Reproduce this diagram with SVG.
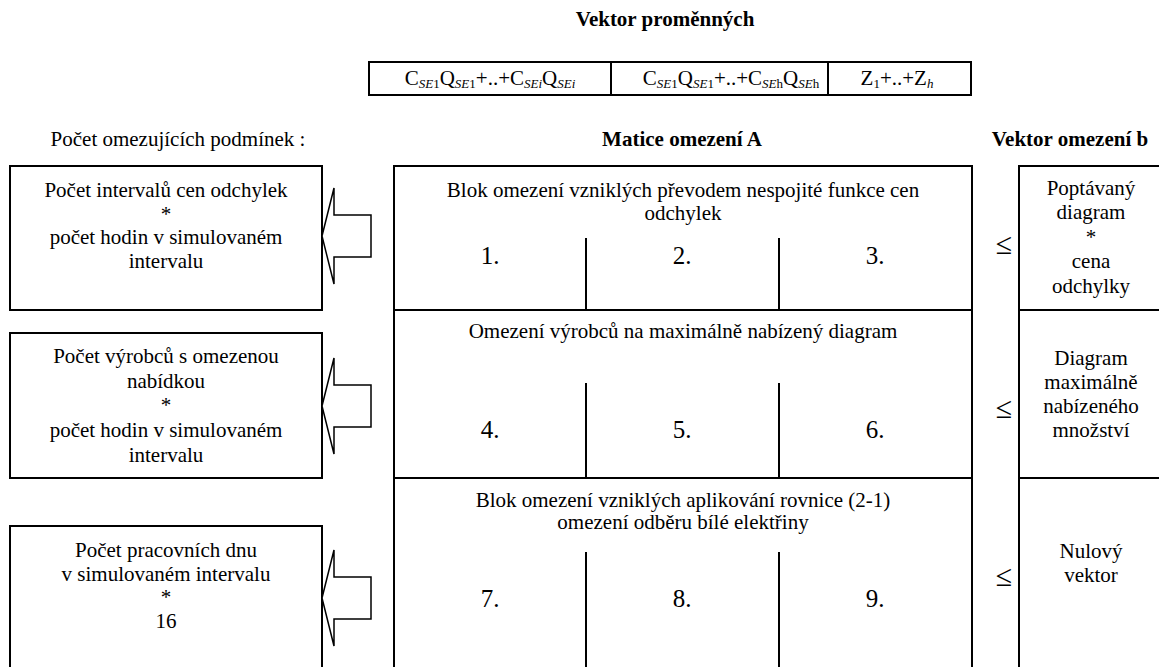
<svg xmlns="http://www.w3.org/2000/svg" width="1159" height="667" viewBox="0 0 1159 667">
  <defs>
    <style>
      text { font-family: "Liberation Serif", "Times New Roman", serif; font-size: 21px; fill: #000; text-anchor: middle; }
      .b { font-weight: bold; }
      .num { font-size: 25px; }
      .le { font-size: 30px; }
      .sub { font-size: 13px; }
      .it { font-style: italic; }
      .box { fill: #fff; stroke: #000; stroke-width: 2; }
      .ln { stroke: #000; stroke-width: 2; fill: none; }
      .arrow { fill: #fff; stroke: #000; stroke-width: 1.5; stroke-linejoin: miter; }
    </style>
    <!-- hollow block arrow pointing left, tip at origin -->
    <polygon id="blockArrow" class="arrow" points="0,0 12,-48 12,-21 49,-21 49,21 12,21 12,48"/>
  </defs>
  <rect width="1159" height="667" fill="#fff"/>

  <!-- vector of variables -->
  <g id="variables">
    <text class="b" x="665" y="26">Vektor proměnných</text>
    <rect class="box" x="369" y="62" width="602" height="33"/>
    <line class="ln" x1="611" y1="62" x2="611" y2="95"/>
    <line class="ln" x1="828" y1="62" x2="828" y2="95"/>
    <text x="490" y="85">C<tspan class="sub it" dy="3">SE</tspan><tspan class="sub">1</tspan><tspan dy="-3">Q</tspan><tspan class="sub it" dy="3">SE</tspan><tspan class="sub">1</tspan><tspan dy="-3">+..+C</tspan><tspan class="sub it" dy="3">SEi</tspan><tspan dy="-3">Q</tspan><tspan class="sub it" dy="3">SEi</tspan></text>
    <text x="731" y="85">C<tspan class="sub it" dy="3">SE</tspan><tspan class="sub">1</tspan><tspan dy="-3">Q</tspan><tspan class="sub it" dy="3">SE</tspan><tspan class="sub">1</tspan><tspan dy="-3">+..+C</tspan><tspan class="sub it" dy="3">SE</tspan><tspan class="sub">h</tspan><tspan dy="-3">Q</tspan><tspan class="sub it" dy="3">SE</tspan><tspan class="sub">h</tspan></text>
    <text x="897" y="85">Z<tspan class="sub" dy="3">1</tspan><tspan dy="-3">+..+Z</tspan><tspan class="sub it" dy="3">h</tspan></text>
  </g>

  <!-- column headings -->
  <g id="headings">
    <text x="178" y="146">Počet omezujících podmínek :</text>
    <text class="b" x="682" y="146">Matice omezení A</text>
    <text class="b" x="1070" y="146">Vektor omezení b</text>
  </g>

  <!-- constraint counts -->
  <g id="count1">
    <rect class="box" x="10" y="166" width="312" height="144"/>
    <text x="166" y="197">Počet intervalů cen odchylek</text>
    <text x="166" y="221">*</text>
    <text x="166" y="244">počet hodin v simulovaném</text>
    <text x="166" y="268">intervalu</text>
  </g>
  <g id="count2">
    <rect class="box" x="10" y="333" width="312" height="145"/>
    <text x="166" y="363">Počet výrobců s omezenou</text>
    <text x="166" y="388">nabídkou</text>
    <text x="166" y="412">*</text>
    <text x="166" y="437">počet hodin v simulovaném</text>
    <text x="166" y="462">intervalu</text>
  </g>
  <g id="count3">
    <rect class="box" x="10" y="526" width="312" height="170"/>
    <text x="166" y="557">Počet pracovních dnu</text>
    <text x="166" y="581">v simulovaném intervalu</text>
    <text x="166" y="604">*</text>
    <text x="166" y="628">16</text>
  </g>

  <!-- constraint matrix A -->
  <g id="matrixA">
    <rect class="box" x="394" y="166" width="578" height="530"/>
    <line class="ln" x1="394" y1="310" x2="972" y2="310"/>
    <line class="ln" x1="394" y1="478" x2="972" y2="478"/>
    <text x="683" y="197">Blok omezení vzniklých převodem nespojité funkce cen</text>
    <text x="683" y="220">odchylek</text>
    <text x="683" y="338">Omezení výrobců na maximálně nabízený diagram</text>
    <text x="683" y="507">Blok omezení vzniklých aplikování rovnice (2-1)</text>
    <text x="683" y="529">omezení odběru bílé elektřiny</text>
    <g id="cells">
      <line class="ln" x1="586" y1="238" x2="586" y2="310"/>
      <line class="ln" x1="779" y1="238" x2="779" y2="310"/>
      <line class="ln" x1="586" y1="383" x2="586" y2="478"/>
      <line class="ln" x1="779" y1="383" x2="779" y2="478"/>
      <line class="ln" x1="586" y1="552" x2="586" y2="696"/>
      <line class="ln" x1="779" y1="552" x2="779" y2="696"/>
      <text class="num" x="490" y="264">1.</text>
      <text class="num" x="682" y="264">2.</text>
      <text class="num" x="875" y="264">3.</text>
      <text class="num" x="490" y="438">4.</text>
      <text class="num" x="682" y="438">5.</text>
      <text class="num" x="875" y="438">6.</text>
      <text class="num" x="490" y="607">7.</text>
      <text class="num" x="682" y="607">8.</text>
      <text class="num" x="875" y="607">9.</text>
    </g>
  </g>

  <!-- inequality signs -->
  <g id="relations">
    <text class="le" x="1004" y="254">≤</text>
    <text class="le" x="1004" y="418">≤</text>
    <text class="le" x="1004" y="586">≤</text>
  </g>

  <!-- constraint vector b -->
  <g id="vectorB">
    <rect class="box" x="1019" y="166" width="160" height="530"/>
    <line class="ln" x1="1019" y1="310" x2="1179" y2="310"/>
    <line class="ln" x1="1019" y1="478" x2="1179" y2="478"/>
    <text x="1091" y="195">Poptávaný</text>
    <text x="1091" y="219">diagram</text>
    <text x="1091" y="244">*</text>
    <text x="1091" y="268">cena</text>
    <text x="1091" y="293">odchylky</text>
    <text x="1091" y="365">Diagram</text>
    <text x="1091" y="389">maximálně</text>
    <text x="1091" y="413">nabízeného</text>
    <text x="1091" y="437">množství</text>
    <text x="1091" y="558">Nulový</text>
    <text x="1091" y="582">vektor</text>
  </g>

  <!-- arrows from matrix blocks to their constraint counts -->
  <g id="connectors">
    <use href="#blockArrow" x="322" y="236"/>
    <use href="#blockArrow" x="322" y="406"/>
    <use href="#blockArrow" x="322" y="598"/>
  </g>
</svg>
